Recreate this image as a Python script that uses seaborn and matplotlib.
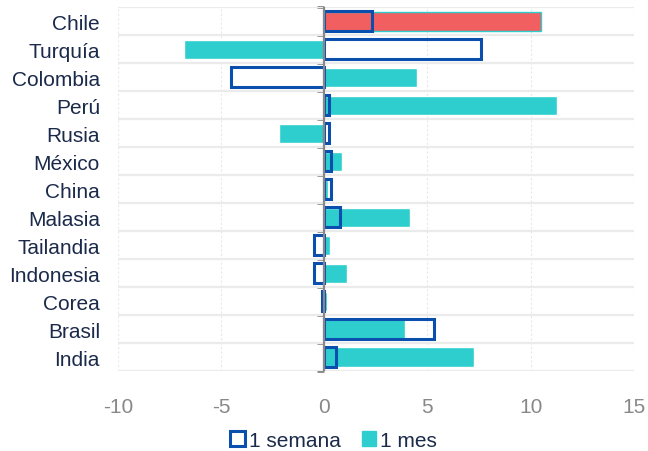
import matplotlib
matplotlib.use("Agg")
import matplotlib.pyplot as plt
from matplotlib.patches import Patch
import seaborn as sns
import pandas as pd

paises = ["Chile", "Turquía", "Colombia", "Perú", "Rusia", "México", "China",
          "Malasia", "Tailandia", "Indonesia", "Corea", "Brasil", "India"]
semana = [2.3, 7.6, -4.5, 0.25, 0.25, 0.35, 0.35, 0.75, -0.5, -0.5, -0.1, 5.3, 0.55]
mes = [10.5, -6.8, 4.5, 11.3, -2.2, 0.85, 0.2, 4.15, 0.27, 1.1, 0.15, 3.9, 7.25]
xticks = [-10, -5, 0, 5, 10, 15]

NAVY_TXT = "#1b2a4a"
BLUE = "#0b4fae"
TEAL = "#2ecece"
RED = "#f25f60"
GRAY = "#888888"

sns.set_theme(style="white")
plt.rcParams["font.family"] = ["Liberation Sans Narrow", "Liberation Sans", "DejaVu Sans"]

df = pd.DataFrame({"pais": paises, "semana": semana, "mes": mes})

fig = plt.figure(figsize=(6.48, 4.52), dpi=100)
ax = fig.add_axes([0.182, 0.177, 0.796, 0.805])

# 1 mes: filled bars
sns.barplot(data=df, x="mes", y="pais", orient="h", color=TEAL, width=0.68,
            saturation=1, ax=ax, zorder=2)
# highlight Chile
ax.patches[0].set_facecolor(RED)
ax.patches[0].set_edgecolor(TEAL)
ax.patches[0].set_linewidth(1.0)

# 1 semana: outlined bars on top
n_before = len(ax.patches)
sns.barplot(data=df, x="semana", y="pais", orient="h", width=0.72,
            facecolor="none", edgecolor=BLUE, linewidth=2.2, saturation=1,
            ax=ax, zorder=3)
for p in ax.patches[n_before:]:
    p.set_facecolor("none")
    p.set_edgecolor(BLUE)
    p.set_linewidth(2.2)
    p.set_zorder(3)

ax.set_xlim(-10, 15)
ax.set_ylim(len(paises) - 0.5, -0.5)
ax.set_xticks(xticks)
ax.set_xticklabels([str(t) for t in xticks])
ax.set_xlabel("")
ax.set_ylabel("")

# category separators and light vertical guides
bounds = [i - 0.5 for i in range(len(paises) + 1)]
ax.set_yticks(bounds, minor=True)
ax.grid(which="minor", axis="y", color="#ebebeb", linewidth=1.6, zorder=0)
ax.grid(which="major", axis="x", color="#e8e8e8", linewidth=0.8,
        linestyle=(0, (2, 2)), zorder=0)
ax.grid(which="major", axis="y", visible=False)
ax.tick_params(axis="y", which="both", length=0, labelsize=15,
               labelcolor=NAVY_TXT, pad=13)
ax.tick_params(axis="x", length=0, labelsize=15, labelcolor=GRAY, pad=19)
for s in ax.spines.values():
    s.set_visible(False)

# zero axis with boundary ticks
ax.axvline(0, color=GRAY, linewidth=1.6, zorder=4)
zero_ax = ax.secondary_yaxis(10 / 25)
zero_ax.set_yticks(bounds)
zero_ax.set_yticklabels([])
zero_ax.tick_params(length=5, width=2, color=GRAY, direction="out")
zero_ax.spines["left"].set_visible(False)

handles = [Patch(facecolor="white", edgecolor=BLUE, linewidth=2.2, label="1 semana"),
           Patch(facecolor=TEAL, edgecolor=TEAL, label="1 mes")]
fig.legend(handles=handles, loc="center", bbox_to_anchor=(0.515, 0.024), ncol=2,
           frameon=False, fontsize=15, labelcolor=NAVY_TXT, handlelength=0.7,
           handleheight=0.7, handletextpad=0.2, columnspacing=1.0)

fig.savefig("out.png", dpi=100)
